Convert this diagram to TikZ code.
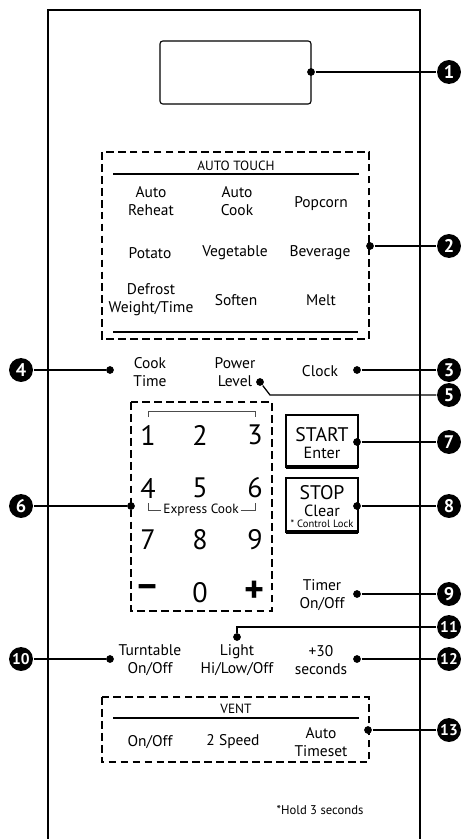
\documentclass[tikz,border=0pt]{standalone}
\usepackage{fontspec}
\setmainfont{PT Sans}
\usetikzlibrary{positioning,calc}

\begin{document}
\begin{tikzpicture}[x=0.025cm,y=-0.025cm,line width=0.9pt,
  num/.style={circle,fill=black,text=white,inner sep=0pt,minimum size=17pt,
              font=\bfseries\fontsize{13}{13}\selectfont},
  numtwo/.style={num,font=\bfseries\fontsize{11}{11}\selectfont},
  dot/.style={circle,fill=black,inner sep=0pt,minimum size=5.5pt},
  key/.style={align=center,inner sep=1pt,font=\fontsize{11}{12.8}\selectfont},
  digit/.style={inner sep=0pt,font=\fontsize{20}{20}\selectfont},
  sign/.style={inner sep=0pt,font=\bfseries\fontsize{27}{27}\selectfont},
  caption/.style={inner sep=1pt,font=\fontsize{9.5}{9.5}\selectfont},
  group/.style={draw,line width=1.4pt,dash pattern=on 5.5pt off 3pt},
  bracket/.style={line width=0.5pt,black!70}]
\useasboundingbox (0,0) rectangle (461,839);

% panel outline, open at the bottom
\draw[line width=1pt] (48,839) -- (48,10) -- (420,10) -- (420,839);

% display window
\draw[line width=0.8pt,rounded corners=2pt] (160,41) rectangle (311,104);
\node[dot] (d1) at (311,72) {};
\node[num] (n1) at (449,72) {1};
\draw (d1) -- (n1);

% auto touch group
\draw[group] (102,152) rectangle (369,339);
\node[caption] (autotouch) at (236,166) {AUTO TOUCH};
\draw[line width=1.3pt] (113,174) -- (359,174);
\node[key] (reheat)    at (151,201) {Auto\\Reheat};
\node[key] (autocook)  at (237,201) {Auto\\Cook};
\node[key] (popcorn)   at (321,204) {Popcorn};
\node[key] (potato)    at (150,253) {Potato};
\node[key] (vegetable) at (235,253) {Vegetable};
\node[key] (beverage)  at (320,253) {Beverage};
\node[key] (defrost)   at (151,300) {Defrost\\Weight/Time};
\node[key] (soften)    at (236,300) {Soften};
\node[key] (melt)      at (321,300) {Melt};
\draw[line width=1.3pt] (113,332) -- (358,332);
\node[dot] (d2) at (370,246) {};
\node[num] (n2) at (449,246) {2};
\draw (d2) -- (n2);

% cook time / power level / clock
\node[key] (cooktime) at (150,372) {Cook\\Time};
\node[key] (power)    at (235,372) {Power\\Level};
\node[key] (clock)    at (320,371) {Clock};
\node[dot] (d4) at (110,370) {};
\node[num] (n4) at (21,370) {4};
\draw (n4) -- (d4);
\node[dot] (d5) at (260,382) {};
\node[num] (n5) at (449,395) {5};
\draw (d5) -- ++(10,13) -- (n5);
\node[dot] (d3) at (357,370) {};
\node[num] (n3) at (449,370) {3};
\draw (d3) -- (n3);

% number pad
\draw[group] (131,402) rectangle (272,611);
\draw[bracket] (148,417) -- (148,411) -- (255,411) -- (255,417);
\node[digit] (k1) at (148,435) {1};
\node[digit] (k2) at (200,435) {2};
\node[digit] (k3) at (255,435) {3};
\node[digit] (k4) at (148,488) {4};
\node[digit] (k5) at (200,488) {5};
\node[digit] (k6) at (255,488) {6};
\node[caption] (express) at (201,510) {Express Cook};
\draw[bracket] (148,503) -- (148,510) -- (express.west);
\draw[bracket] (express.east) -- (255,510) -- (255,503);
\node[digit] (k7) at (148,540) {7};
\node[digit] (k8) at (200,540) {8};
\node[digit] (k9) at (255,540) {9};
\node[sign]  (kminus) at (148,592) {−};
\node[digit] (k0)     at (200,593) {0};
\node[sign]  (kplus)  at (255,592) {+};
\node[dot] (d6) at (131,506) {};
\node[num] (n6) at (21,506) {6};
\draw (n6) -- (d6);

% start / stop buttons
\draw[line width=0.8pt] (286,468) -- (286,415) -- (358,415) -- (358,468);
\draw[line width=3pt] (286,467) -- (358,467);
\node[inner sep=0pt,font=\fontsize{14}{14}\selectfont] (start) at (322,435) {START};
\node[inner sep=0pt,font=\fontsize{11.5}{11.5}\selectfont] (enter) at (322,453) {Enter};
\node[dot] (d7) at (357,442) {};
\node[num] (n7) at (449,442) {7};
\draw (d7) -- (n7);

\draw[line width=0.8pt] (286,533) -- (286,478) -- (358,478) -- (358,533);
\draw[line width=3pt] (286,532) -- (358,532);
\node[inner sep=0pt,font=\fontsize{14}{14}\selectfont] (stop) at (322,493) {STOP};
\node[inner sep=0pt,font=\fontsize{11.5}{11.5}\selectfont] (clear) at (322,511) {Clear};
\node[inner sep=0pt,font=\fontsize{7.5}{7.5}\selectfont] (lock) at (322,524) {* Control Lock};
\node[dot] (d8) at (357,506) {};
\node[num] (n8) at (449,506) {8};
\draw (d8) -- (n8);

% timer
\node[key] (timer) at (322,595) {Timer\\On/Off};
\node[dot] (d9) at (357,594) {};
\node[num] (n9) at (449,594) {9};
\draw (d9) -- (n9);

% turntable / light / +30 seconds
\node[key] (turntable) at (150,660) {Turntable\\On/Off};
\node[key] (light)     at (237,660) {Light\\Hi/Low/Off};
\node[key] (plus30)    at (321,660) {+30\\seconds};
\node[dot] (d10) at (110,659) {};
\node[numtwo] (n10) at (21,659) {10};
\draw (n10) -- (d10);
\node[dot] (d11) at (237,637) {};
\node[numtwo] (n11) at (449,627) {11};
\draw (n11) -| (d11);
\node[dot] (d12) at (357,659) {};
\node[numtwo] (n12) at (449,659) {12};
\draw (d12) -- (n12);

% vent group
\draw[group] (102,697) rectangle (369,762);
\node[caption] (vent) at (236,709) {VENT};
\draw[line width=1.3pt] (113,718) -- (359,718);
\node[key] (ventonoff) at (150,742) {On/Off};
\node[key] (speed)     at (233,742) {2 Speed};
\node[key] (timeset)   at (321,742) {Auto\\Timeset};
\node[dot] (d13) at (368,730) {};
\node[numtwo] (n13) at (449,730) {13};
\draw (d13) -- (n13);

\node[inner sep=0pt,font=\fontsize{9}{9}\selectfont] (hold) at (320,810) {*Hold 3 seconds};
\end{tikzpicture}
\end{document}
